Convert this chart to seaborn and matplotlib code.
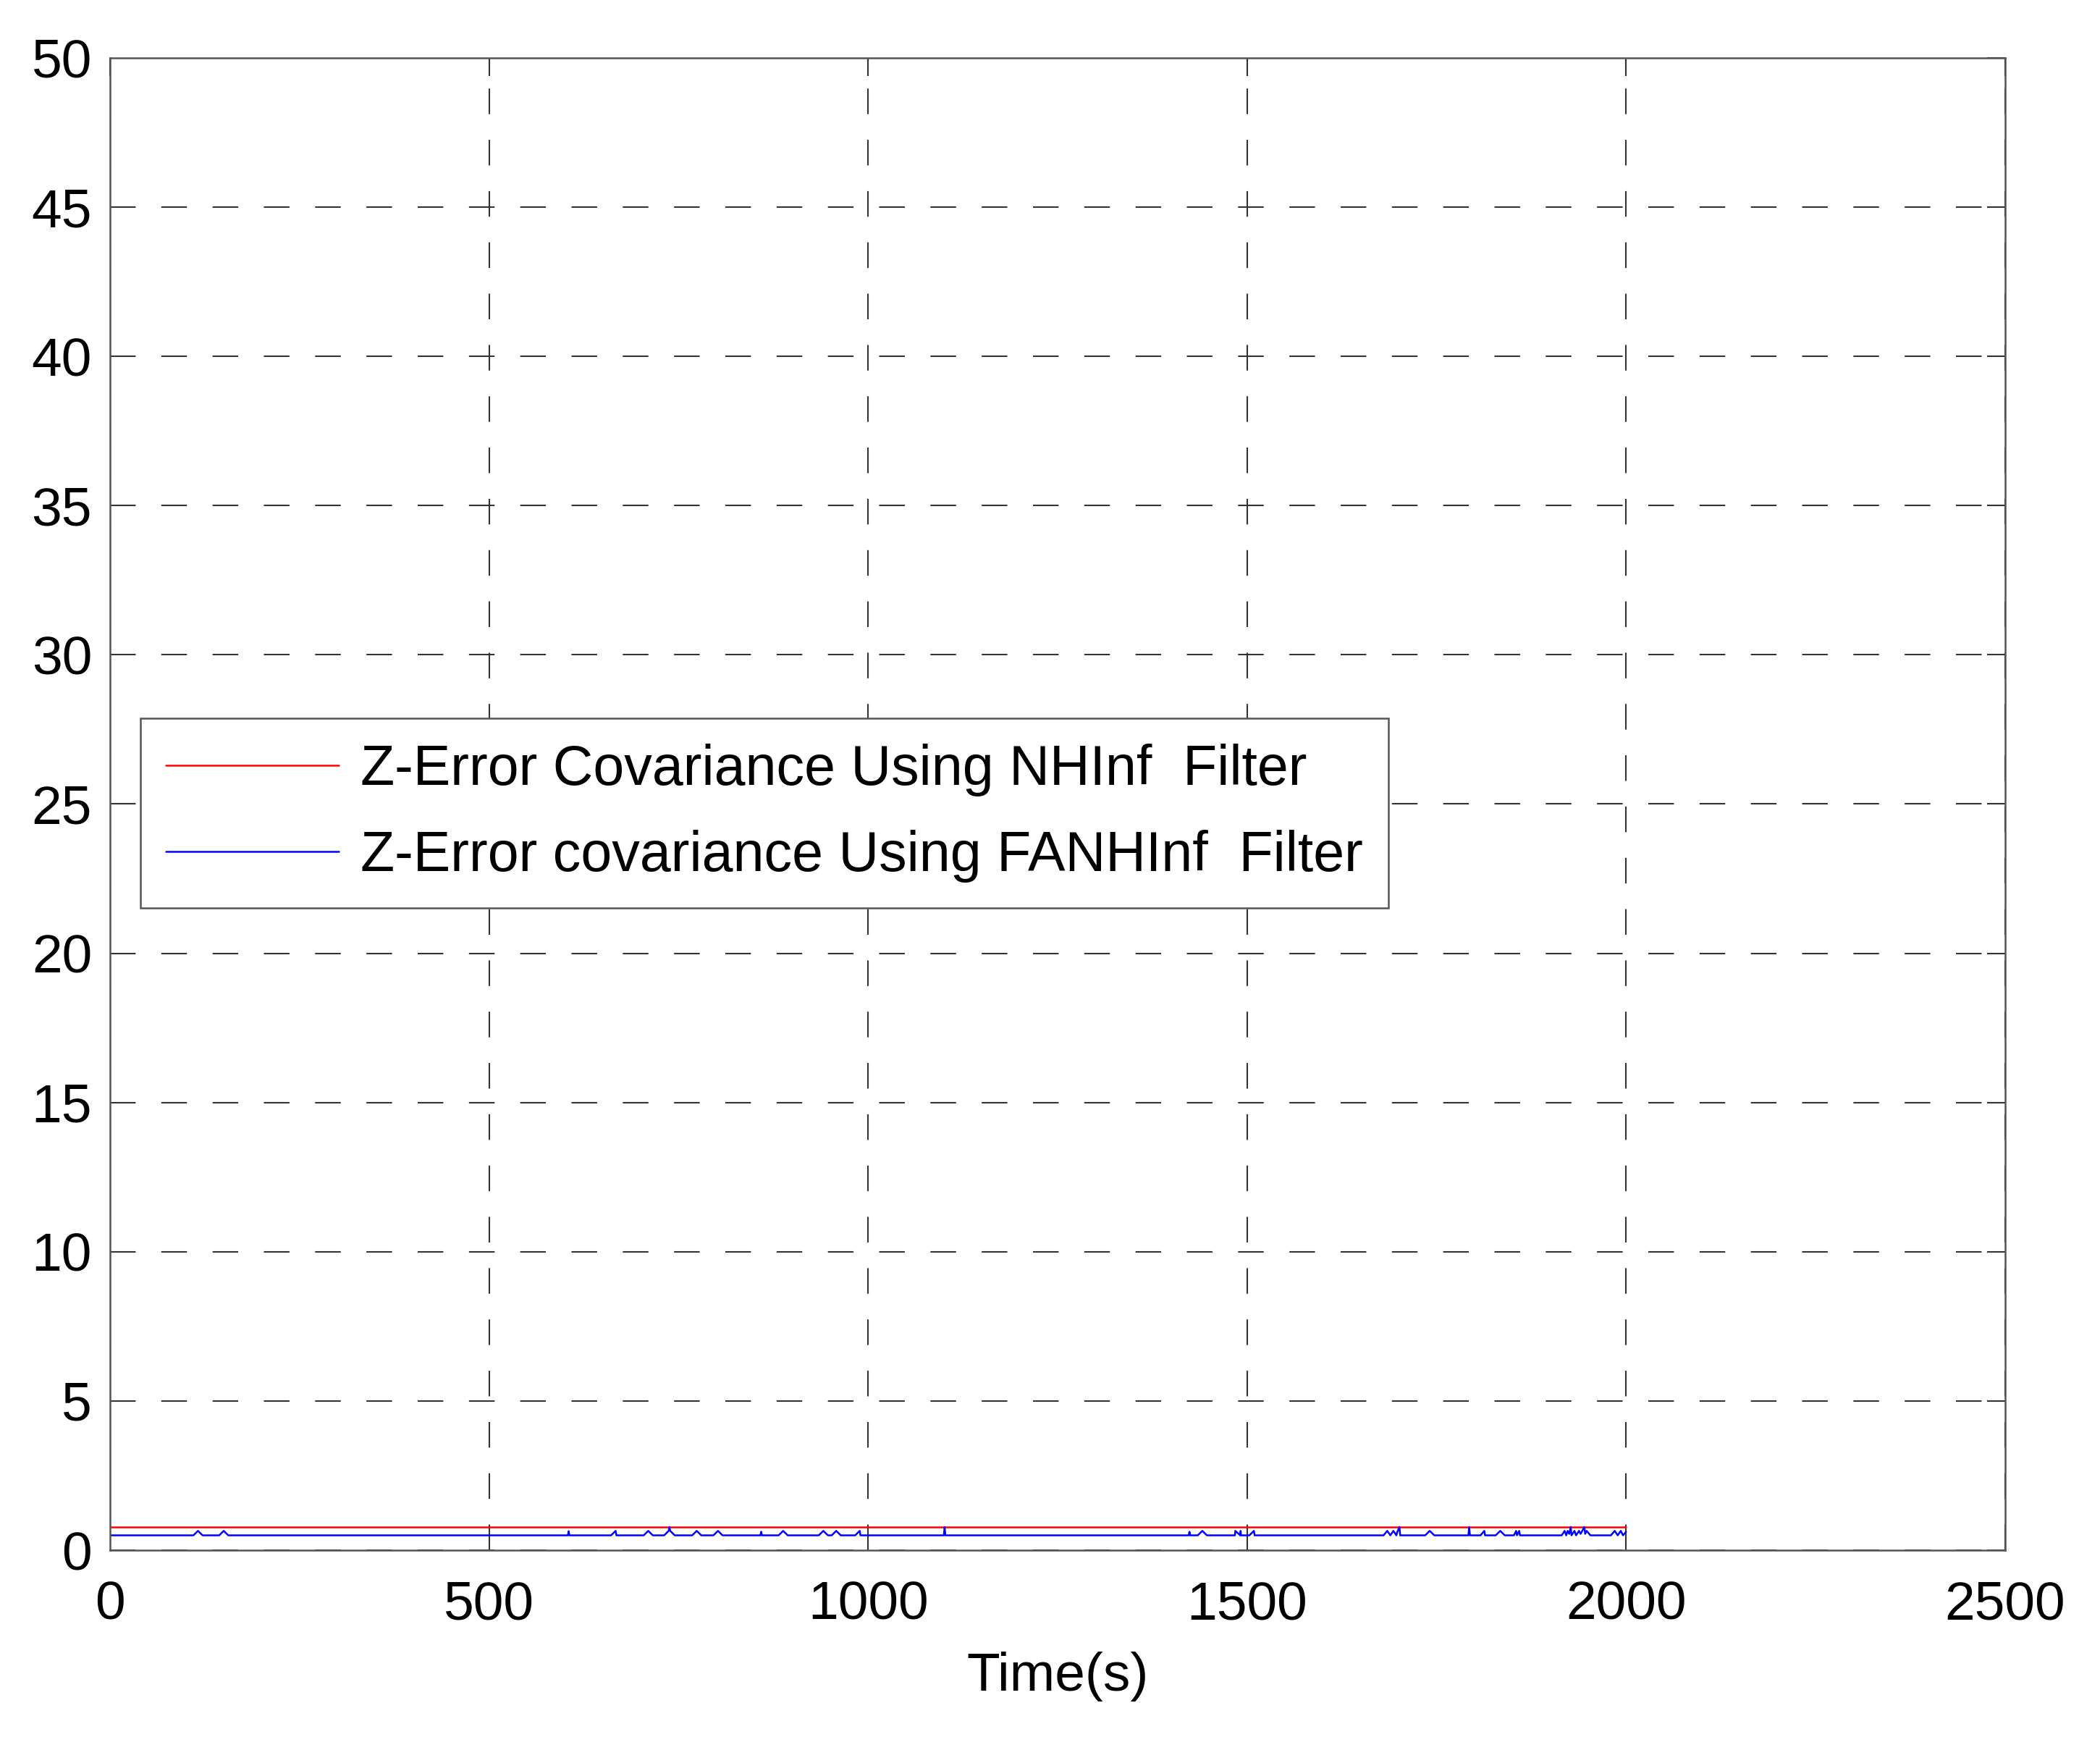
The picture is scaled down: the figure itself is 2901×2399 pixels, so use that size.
import pandas as pd
import seaborn as sns
import matplotlib.pyplot as plt

# red series (NHInf) - flat
t_red = [0, 2000]
z_red = [0.78, 0.78]

# blue series (FANHInf) - flat with small bumps / spikes
t_blue = [0,
          110, 116, 122, 144, 150, 156,
          604, 605, 606,
          661, 667, 668,
          704, 710, 716, 731, 737, 738, 739, 745,
          768, 774, 780, 796, 802, 808,
          858, 859, 860,
          882, 888, 894,
          935, 941, 947, 952, 958, 964,
          983, 989, 990,
          1100, 1101, 1102,
          1423, 1424, 1425, 1435, 1441, 1447,
          1484, 1484.5, 1491, 1491.5, 1492,
          1503, 1509, 1510,
          1680, 1685, 1689, 1693, 1697, 1698, 1701, 1702,
          1735, 1741, 1747,
          1792, 1793, 1794,
          1808, 1813, 1814,
          1828, 1834, 1840,
          1852, 1855, 1856, 1859, 1860,
          1915, 1919, 1921, 1923, 1925, 1927, 1928, 1932, 1934, 1938, 1940, 1945, 1946, 1948, 1953,
          1980, 1985, 1989, 1993, 1996, 2000]
z_blue = [0.5,
          0.5, 0.65, 0.5, 0.5, 0.65, 0.5,
          0.5, 0.64, 0.5,
          0.5, 0.65, 0.5,
          0.5, 0.65, 0.5, 0.5, 0.65, 0.78, 0.65, 0.5,
          0.5, 0.65, 0.5, 0.5, 0.65, 0.5,
          0.5, 0.62, 0.5,
          0.5, 0.65, 0.5,
          0.5, 0.65, 0.5, 0.5, 0.65, 0.5,
          0.5, 0.65, 0.5,
          0.5, 0.78, 0.5,
          0.5, 0.62, 0.5, 0.5, 0.65, 0.5,
          0.5, 0.65, 0.5, 0.65, 0.5,
          0.5, 0.65, 0.5,
          0.5, 0.65, 0.5, 0.65, 0.5, 0.6, 0.78, 0.5,
          0.5, 0.65, 0.5,
          0.5, 0.78, 0.5,
          0.5, 0.65, 0.5,
          0.5, 0.65, 0.5,
          0.5, 0.65, 0.5, 0.65, 0.5,
          0.5, 0.65, 0.5, 0.65, 0.55, 0.78, 0.5, 0.65, 0.5, 0.65, 0.55, 0.78, 0.55, 0.65, 0.5,
          0.5, 0.65, 0.5, 0.65, 0.5, 0.62]

lab_red = 'Z-Error Covariance Using NHInf  Filter'
lab_blue = 'Z-Error covariance Using FANHInf  Filter'

x_ticks = [0, 500, 1000, 1500, 2000, 2500]
y_ticks = [0, 5, 10, 15, 20, 25, 30, 35, 40, 45, 50]

df = pd.concat([
    pd.DataFrame({'t': t_red, 'z': z_red, 'serie': lab_red}),
    pd.DataFrame({'t': t_blue, 'z': z_blue, 'serie': lab_blue}),
], ignore_index=True)

sns.set_style('white')
plt.rcParams['font.family'] = ['Liberation Sans', 'DejaVu Sans']
plt.rcParams['text.color'] = 'black'
plt.rcParams['axes.labelcolor'] = 'black'
plt.rcParams['xtick.color'] = 'black'
plt.rcParams['ytick.color'] = 'black'

fig = plt.figure(figsize=(2901 / 300, 2399 / 300), dpi=300)
ax = fig.add_axes([0.0524, 0.1075, 0.9024, 0.8592])

sns.lineplot(data=df, x='t', y='z', hue='serie', sort=False, estimator=None,
             palette={lab_red: 'red', lab_blue: 'blue'}, linewidth=0.6, ax=ax)

ax.set_xlim(0, 2500)
ax.set_ylim(0, 50)
ax.set_xticks(x_ticks)
ax.set_yticks(y_ticks)
ax.tick_params(labelsize=18, direction='in', length=6, width=0.5,
               top=True, right=True, color='#333333', labelcolor='black')
ax.tick_params(axis='x', pad=10)
ax.tick_params(axis='y', pad=6)
ax.grid(True, color='#333333', linewidth=0.5, linestyle=(0, (17, 17)))
for s in ax.spines.values():
    s.set_color('#555555')
    s.set_linewidth(0.6)

ax.set_xlabel('Time(s)', fontsize=18, labelpad=7, color='black')
ax.set_ylabel('')

leg = ax.legend(loc='upper left', bbox_to_anchor=(0.016, 0.5575), borderaxespad=0,
                fontsize=18.5, handlelength=3.1, handletextpad=0.4, borderpad=0.45,
                labelspacing=0.6, fancybox=False, framealpha=1, edgecolor='#555555')
leg.get_frame().set_linewidth(0.6)
for h in leg.get_lines():
    h.set_linewidth(0.6)
for txt in leg.get_texts():
    txt.set_color('black')

plt.savefig('out.png', dpi=300)
